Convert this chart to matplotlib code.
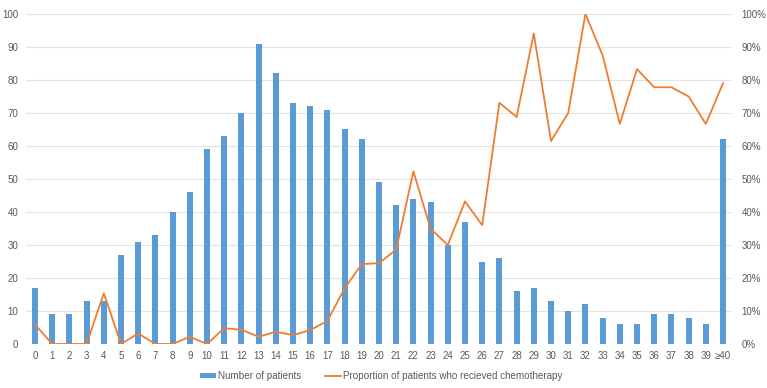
import matplotlib
matplotlib.use("Agg")
import matplotlib.pyplot as plt
from matplotlib.ticker import FuncFormatter
import numpy as np

plt.rcParams['font.family'] = ['Liberation Sans', 'DejaVu Sans']

categories = [str(i) for i in range(40)] + ["≥40"]
patients = [17, 9, 9, 13, 13, 27, 31, 33, 40, 46, 59, 63, 70, 91, 82, 73, 72, 71, 65, 62,
            49, 42, 44, 43, 30, 37, 25, 26, 16, 17, 13, 10, 12, 8, 6, 6, 9, 9, 8, 6, 62]
proportion = [5.9, 0, 0, 0, 15.4, 0, 3.2, 0, 0, 2.2, 0, 4.8, 4.3, 2.2, 3.7, 2.7, 4.2, 7.0, 16.9, 24.2,
              24.5, 28.6, 52.3, 34.9, 30.0, 43.2, 36.0, 73.1, 68.8, 94.1, 61.5, 70.0, 100.0, 87.5, 66.7, 83.3,
              77.8, 77.8, 75.0, 66.7, 79.0]

bar_color = "#5B9BD5"
line_color = "#ED7D31"
text_color = "#595959"
grid_color = "#E3E3E3"

fig = plt.figure(figsize=(7.67, 3.88), dpi=100)
ax = fig.add_axes([26.4 / 767, 1 - 344 / 388, (731.6 - 26.4) / 767, (344 - 14) / 388])
x = np.arange(len(categories))
bars = ax.bar(x, patients, width=0.34, color=bar_color, label="Number of patients", zorder=2)
ax.set_xlim(-0.5, len(categories) - 0.5)
ax.set_ylim(0, 100)
ax.set_yticks(range(0, 101, 10))
ax.set_xticks(x)
ax.set_xticklabels(categories)
ax.grid(axis='y', color=grid_color, linewidth=0.8, zorder=0)
ax.set_axisbelow(True)
for s in ax.spines.values():
    s.set_visible(False)
ax.tick_params(axis='both', length=0, labelsize=7, labelcolor=text_color)
ax.tick_params(axis='y', pad=6)
ax.tick_params(axis='x', pad=5)

ax2 = ax.twinx()
line, = ax2.plot(x, np.array(proportion) / 100, color=line_color, linewidth=1.3,
                 label="Proportion of patients who recieved chemotherapy", zorder=3)
ax2.set_ylim(0, 1)
ax2.set_yticks(np.arange(0, 1.01, 0.1))
ax2.yaxis.set_major_formatter(FuncFormatter(lambda v, p: f"{round(v * 100)}%"))
for s in ax2.spines.values():
    s.set_visible(False)
ax2.tick_params(axis='y', length=0, labelsize=7, labelcolor=text_color, pad=7)

fig.legend(handles=[bars, line], labels=["Number of patients", "Proportion of patients who recieved chemotherapy"],
           loc='center', bbox_to_anchor=(381.5 / 767, 1 - 376 / 388), ncol=2, frameon=False,
           fontsize=7.1, labelcolor=text_color, handlelength=1.65, handleheight=0.45,
           handletextpad=0.2, columnspacing=2.4)

fig.savefig("out.png", dpi=100)
